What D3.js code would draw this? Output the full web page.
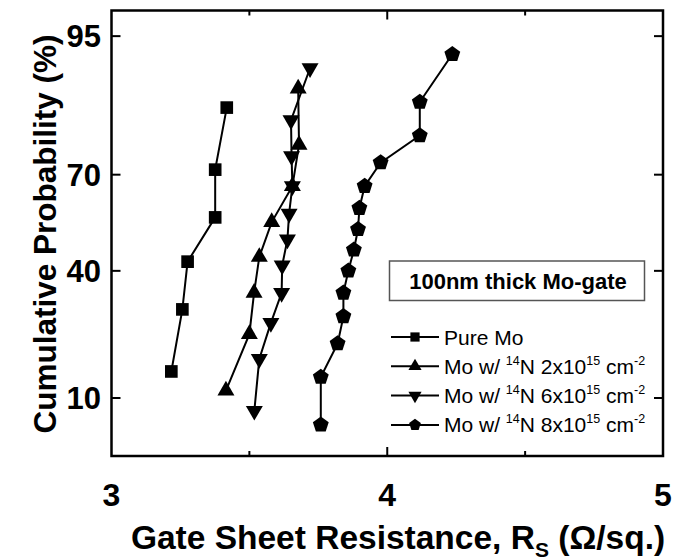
<!DOCTYPE html>
<html>
<head>
<meta charset="utf-8">
<script src="https://cdn.jsdelivr.net/npm/d3@7"></script>
<style>
  body { margin: 0; background: #fff; }
  svg { display: block; font-family: "Liberation Sans", Arial, sans-serif; }
</style>
</head>
<body>
<svg></svg>
<script>
var width = 685,
    height = 560

// sheet resistance (ohm/sq) and cumulative probability (%)
var pureMoR = [3.217, 3.257, 3.276, 3.376, 3.376, 3.418]
var pureMoP = [14.3, 28.6, 42.9, 57.1, 71.4, 85.7]
var n2R = [3.415, 3.500, 3.517, 3.536, 3.581, 3.656, 3.680, 3.677]
var n2P = [11.1, 22.2, 33.3, 44.4, 55.6, 66.7, 77.8, 88.9]
var n6R = [3.518, 3.536, 3.578, 3.617, 3.619, 3.638, 3.644, 3.656, 3.653, 3.651, 3.720]
var n6P = [8.3, 16.7, 25.0, 33.3, 41.7, 50.0, 58.3, 66.7, 75.0, 83.3, 91.7]
var n8R = [3.759, 3.759, 3.820, 3.841, 3.841, 3.859, 3.879, 3.894, 3.899, 3.918, 3.976, 4.118, 4.118, 4.236]
var n8P = [6.7, 13.3, 20.0, 26.7, 33.3, 40.0, 46.7, 53.3, 60.0, 66.7, 73.3, 80.0, 86.7, 93.3]

var xTicks = [3, 4, 5]
var xMinor = [3.5, 4.5]
var yTicks = [10, 40, 70, 95]
var yRange = [4.0, 96.8]

var boxTitle = "100nm thick Mo-gate"
var doses = ["2", "6", "8"]

// inverse normal cdf (Acklam)
function probit(p) {
  var a = [-39.69683028665376, 220.9460984245205, -275.9285104469687, 138.3577518672690, -30.66479806614716, 2.506628277459239],
      b = [-54.47609879822406, 161.5858368580409, -155.6989798598866, 66.80131188771972, -13.28068155288572],
      c = [-0.007784894002430293, -0.3223964580411365, -2.400758277161838, -2.549732539343734, 4.374664141464968, 2.938163982698783],
      d = [0.007784695709041462, 0.3224671290700398, 2.445134137142996, 3.754408661907416]
  var q, r
  if (p < 0.02425) {
    q = Math.sqrt(-2 * Math.log(p))
    return (((((c[0]*q+c[1])*q+c[2])*q+c[3])*q+c[4])*q+c[5]) / ((((d[0]*q+d[1])*q+d[2])*q+d[3])*q+1)
  } else if (p > 1 - 0.02425) {
    q = Math.sqrt(-2 * Math.log(1 - p))
    return -(((((c[0]*q+c[1])*q+c[2])*q+c[3])*q+c[4])*q+c[5]) / ((((d[0]*q+d[1])*q+d[2])*q+d[3])*q+1)
  }
  q = p - 0.5
  r = q * q
  return (((((a[0]*r+a[1])*r+a[2])*r+a[3])*r+a[4])*r+a[5])*q / (((((b[0]*r+b[1])*r+b[2])*r+b[3])*r+b[4])*r+1)
}

var mLeft = 111.5, mRight = 663, mTop = 10.5, mBottom = 456

var x = d3.scaleLinear().domain([3, 5]).range([mLeft, mRight])
var yz = d3.scaleLinear().domain([probit(yRange[0] / 100), probit(yRange[1] / 100)]).range([mBottom, mTop])
var y = function(p) { return yz(probit(p / 100)) }

var svg = d3.select("svg").attr("width", width).attr("height", height)

var pentagon = {
  draw: function(ctx, size) {
    var r = Math.sqrt(size / 2.3776)
    for (var i = 0; i < 5; i++) {
      var a = -Math.PI / 2 + i * 2 * Math.PI / 5
      if (i == 0) ctx.moveTo(r * Math.cos(a), r * Math.sin(a))
      else ctx.lineTo(r * Math.cos(a), r * Math.sin(a))
    }
    ctx.closePath()
  }
}

var series = [
  {r: pureMoR, p: pureMoP, type: d3.symbolSquare, size: 160, rot: 0, lsize: 85},
  {r: n2R, p: n2P, type: d3.symbolTriangle, size: 125, rot: 0, lsize: 75},
  {r: n6R, p: n6P, type: d3.symbolTriangle, size: 125, rot: 180, lsize: 75},
  {r: n8R, p: n8P, type: pentagon, size: 165, rot: 0, lsize: 90}
]

var line = d3.line().x(function(d) { return x(d[0]) }).y(function(d) { return y(d[1]) })

series.forEach(function(s) {
  var pts = s.r.map(function(v, i) { return [v, s.p[i]] })
  svg.append("path")
    .attr("d", line(pts))
    .attr("fill", "none")
    .attr("stroke", "#000")
    .attr("stroke-width", 2)
  svg.selectAll(null)
    .data(pts)
    .enter().append("path")
    .attr("d", d3.symbol().type(s.type).size(s.size))
    .attr("transform", function(d) {
      return "translate(" + x(d[0]) + "," + y(d[1]) + ") rotate(" + s.rot + ")"
    })
    .attr("fill", "#000")
})

// frame
svg.append("rect")
  .attr("x", mLeft).attr("y", mTop)
  .attr("width", mRight - mLeft).attr("height", mBottom - mTop)
  .attr("fill", "none").attr("stroke", "#000").attr("stroke-width", 2.5)

// ticks, inward on all four sides
xTicks.slice(1, -1).concat(xMinor).forEach(function(v) {
  var len = xTicks.indexOf(v) >= 0 ? 9 : 5
  svg.append("line").attr("x1", x(v)).attr("x2", x(v)).attr("y1", mBottom).attr("y2", mBottom - len)
    .attr("stroke", "#000").attr("stroke-width", 2)
  svg.append("line").attr("x1", x(v)).attr("x2", x(v)).attr("y1", mTop).attr("y2", mTop + len)
    .attr("stroke", "#000").attr("stroke-width", 2)
})
yTicks.forEach(function(v) {
  svg.append("line").attr("x1", mLeft).attr("x2", mLeft + 9).attr("y1", y(v)).attr("y2", y(v))
    .attr("stroke", "#000").attr("stroke-width", 2)
  svg.append("line").attr("x1", mRight).attr("x2", mRight - 9).attr("y1", y(v)).attr("y2", y(v))
    .attr("stroke", "#000").attr("stroke-width", 2)
})

// tick labels
svg.selectAll(null).data(xTicks).enter().append("text")
  .attr("x", function(d) { return x(d) })
  .attr("y", 506)
  .attr("text-anchor", "middle")
  .attr("font-size", 32).attr("font-weight", "bold")
  .text(function(d) { return d })

svg.selectAll(null).data(yTicks).enter().append("text")
  .attr("x", 101)
  .attr("y", function(d) { return y(d) })
  .attr("dy", "0.36em")
  .attr("text-anchor", "end")
  .attr("font-size", 31).attr("font-weight", "bold")
  .text(function(d) { return d })

// axis titles
var xt = svg.append("text")
  .attr("x", 398).attr("y", 549)
  .attr("text-anchor", "middle")
  .attr("font-size", 33.5).attr("font-weight", "bold")
xt.append("tspan").text("Gate Sheet Resistance, R")
xt.append("tspan").attr("font-size", 21).attr("dy", 8).text("S")
xt.append("tspan").attr("dy", -8).text(" (\u03A9/sq.)")

svg.append("text")
  .attr("transform", "translate(56,234) rotate(-90)")
  .attr("text-anchor", "middle")
  .attr("font-size", 31.5).attr("font-weight", "bold")
  .text("Cumulative Probability (%)")

// legend
svg.append("rect")
  .attr("x", 389.5).attr("y", 261).attr("width", 255).attr("height", 39.5)
  .attr("fill", "#fff").attr("stroke", "#555").attr("stroke-width", 1.5)
svg.append("text")
  .attr("x", 518).attr("y", 288.5)
  .attr("text-anchor", "middle")
  .attr("font-size", 22).attr("font-weight", "bold")
  .text(boxTitle)

series.forEach(function(s, i) {
  var ly = 337 + i * 29.3
  svg.append("line").attr("x1", 391).attr("x2", 439).attr("y1", ly).attr("y2", ly)
    .attr("stroke", "#000").attr("stroke-width", 2)
  svg.append("path")
    .attr("d", d3.symbol().type(s.type).size(s.lsize))
    .attr("transform", "translate(415," + ly + ") rotate(" + s.rot + ")")
    .attr("fill", "#000")
  var t = svg.append("text").attr("x", 444).attr("y", ly + 7.5).attr("font-size", 21)
  if (i == 0) {
    t.text("Pure Mo")
  } else {
    t.append("tspan").text("Mo w/ ")
    t.append("tspan").attr("font-size", 12.5).attr("dy", -9).text("14")
    t.append("tspan").attr("dy", 9).text("N " + doses[i - 1] + "x10")
    t.append("tspan").attr("font-size", 12.5).attr("dy", -9).text("15")
    t.append("tspan").attr("dy", 9).text(" cm")
    t.append("tspan").attr("font-size", 12.5).attr("dy", -9).text("-2")
  }
})
</script>
</body>
</html>
